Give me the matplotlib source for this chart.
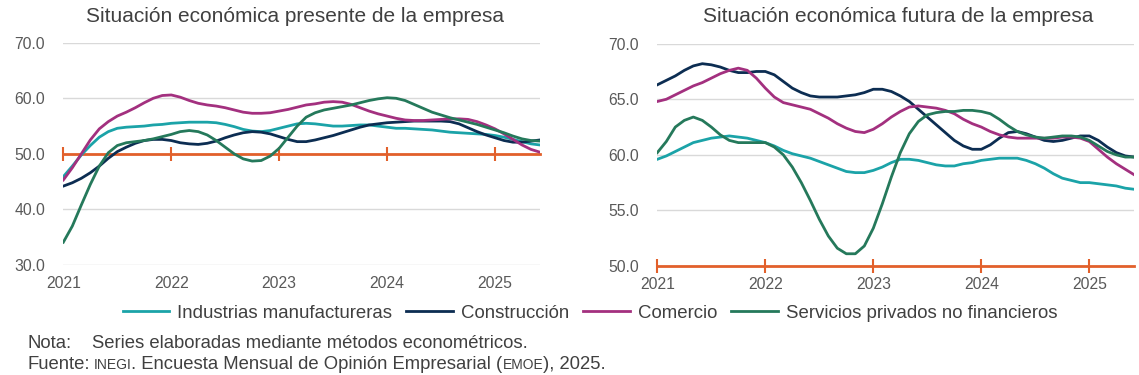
import matplotlib
matplotlib.use('Agg')

import matplotlib.pyplot as plt

plt.rcParams['font.family'] = ['Liberation Sans', 'DejaVu Sans']

# monthly series, Jan 2021 .. Jun 2025
years = ['2021', '2022', '2023', '2024', '2025']
series_names = ['Industrias manufactureras', 'Construcción', 'Comercio',
                'Servicios privados no financieros']

# Situación económica presente de la empresa
pres_ind = [45.9, 47.8, 49.8, 51.5, 53.0, 54.0, 54.6, 54.8, 54.9, 55.0, 55.2, 55.3,
            55.5, 55.6, 55.7, 55.7, 55.7, 55.6, 55.3, 54.9, 54.4, 54.1, 54.0, 54.2,
            54.6, 55.0, 55.4, 55.5, 55.4, 55.2, 55.0, 55.0, 55.1, 55.2, 55.2, 55.0,
            54.8, 54.6, 54.6, 54.5, 54.4, 54.3, 54.1, 53.9, 53.8, 53.7, 53.6, 53.5,
            53.3, 53.0, 52.6, 52.2, 51.8, 51.6]
pres_con = [44.2, 44.8, 45.6, 46.6, 47.8, 49.2, 50.4, 51.2, 51.9, 52.4, 52.6, 52.6,
            52.4, 52.0, 51.8, 51.7, 51.9, 52.3, 52.9, 53.4, 53.8, 54.0, 53.9, 53.6,
            53.1, 52.6, 52.2, 52.2, 52.5, 52.9, 53.3, 53.8, 54.3, 54.8, 55.2, 55.4,
            55.6, 55.7, 55.8, 55.9, 55.9, 55.9, 55.9, 55.8, 55.4, 54.7, 54.0, 53.4,
            52.9, 52.4, 52.1, 52.1, 52.3, 52.5]
pres_com = [45.3, 47.5, 50.0, 52.5, 54.5, 55.8, 56.8, 57.5, 58.3, 59.2, 60.0, 60.5,
            60.6, 60.2, 59.6, 59.1, 58.8, 58.6, 58.3, 57.9, 57.5, 57.3, 57.3, 57.4,
            57.7, 58.0, 58.4, 58.8, 59.0, 59.3, 59.4, 59.3, 58.9, 58.3, 57.7, 57.2,
            56.8, 56.4, 56.1, 56.0, 56.0, 56.1, 56.2, 56.3, 56.3, 56.2, 55.8, 55.2,
            54.5, 53.6, 52.6, 51.6, 50.8, 50.3]
pres_ser = [34.1, 37.0, 40.8, 44.5, 47.8, 50.2, 51.5, 52.0, 52.2, 52.4, 52.7, 53.1,
            53.5, 54.0, 54.2, 54.0, 53.4, 52.4, 51.2, 50.0, 49.1, 48.7, 48.8, 49.6,
            51.0, 53.0, 55.0, 56.6, 57.4, 57.9, 58.2, 58.5, 58.8, 59.2, 59.6, 59.9,
            60.1, 60.0, 59.6, 58.9, 58.2, 57.5, 57.0, 56.5, 56.1, 55.7, 55.3, 54.8,
            54.3, 53.8, 53.2, 52.7, 52.4, 52.3]

# Situación económica futura de la empresa
fut_ind = [59.6, 59.9, 60.3, 60.7, 61.1, 61.3, 61.5, 61.6, 61.7, 61.6, 61.5, 61.3,
           61.1, 60.8, 60.4, 60.1, 59.9, 59.7, 59.4, 59.1, 58.8, 58.5, 58.4, 58.4,
           58.6, 58.9, 59.3, 59.6, 59.6, 59.5, 59.3, 59.1, 59.0, 59.0, 59.2, 59.3,
           59.5, 59.6, 59.7, 59.7, 59.7, 59.5, 59.2, 58.8, 58.3, 57.9, 57.7, 57.5,
           57.5, 57.4, 57.3, 57.2, 57.0, 56.9]
fut_con = [66.3, 66.7, 67.1, 67.6, 68.0, 68.2, 68.1, 67.9, 67.6, 67.4, 67.4, 67.5,
           67.5, 67.2, 66.6, 66.0, 65.6, 65.3, 65.2, 65.2, 65.2, 65.3, 65.4, 65.6,
           65.9, 65.9, 65.7, 65.3, 64.8, 64.1, 63.4, 62.7, 62.0, 61.3, 60.8, 60.5,
           60.5, 60.9, 61.5, 62.0, 62.1, 61.9, 61.6, 61.3, 61.2, 61.3, 61.5, 61.7,
           61.7, 61.3, 60.7, 60.2, 59.9, 59.8]
fut_com = [64.8, 65.0, 65.4, 65.8, 66.2, 66.5, 66.9, 67.3, 67.6, 67.8, 67.6, 66.9,
           66.0, 65.2, 64.7, 64.5, 64.3, 64.1, 63.7, 63.3, 62.8, 62.4, 62.1, 62.0,
           62.3, 62.8, 63.4, 63.9, 64.3, 64.4, 64.3, 64.2, 64.0, 63.7, 63.2, 62.8,
           62.5, 62.1, 61.8, 61.6, 61.5, 61.5, 61.5, 61.5, 61.5, 61.6, 61.6, 61.5,
           61.2, 60.5, 59.8, 59.2, 58.7, 58.2]
fut_ser = [60.2, 61.2, 62.5, 63.1, 63.4, 63.1, 62.5, 61.8, 61.3, 61.1, 61.1, 61.1,
           61.1, 60.7, 60.0, 58.9, 57.5, 55.9, 54.2, 52.7, 51.6, 51.1, 51.1, 51.8,
           53.4, 55.6, 58.0, 60.2, 61.9, 63.0, 63.6, 63.8, 63.9, 63.9, 64.0, 64.0,
           63.9, 63.7, 63.2, 62.6, 62.1, 61.8, 61.6, 61.5, 61.6, 61.7, 61.7, 61.6,
           61.3, 60.8, 60.3, 60.0, 59.8, 59.8]

colors = ['#1BA3A8', '#0C2D52', '#A3307F', '#25795B']
ref_color = '#E2602B'
text_color = '#595959'
dark_text = '#404040'

months = list(range(len(pres_ind)))
year_pos = [12 * i for i in range(len(years))]

fig = plt.figure(figsize=(11.39, 3.75), dpi=100)
ax1 = fig.add_axes([0.0556, 0.2933, 0.4185, 0.5928])
ax2 = fig.add_axes([0.5771, 0.2907, 0.4188, 0.5928])

panels = [
    (ax1, [pres_ind, pres_con, pres_com, pres_ser], (30, 70), [30, 40, 50, 60, 70]),
    (ax2, [fut_ind, fut_con, fut_com, fut_ser], (50, 70), [50, 55, 60, 65, 70]),
]

for ax, data, ylim, yticks in panels:
    for vals, c, name in zip(data, colors, series_names):
        ax.plot(months, vals, color=c, lw=2, label=name, zorder=3)
    ax.set_xlim(0, len(months) - 1)
    ax.set_ylim(*ylim)
    ax.set_yticks(yticks)
    ax.set_yticklabels([f'{v:.1f}' for v in yticks])
    ax.set_xticks(year_pos)
    ax.set_xticklabels(years)
    for s in ax.spines.values():
        s.set_visible(False)
    ax.tick_params(length=0, labelsize=11.3, labelcolor=text_color)
    ax.tick_params(axis='x', pad=8)
    ax.tick_params(axis='y', pad=13)
    ax.grid(axis='y', color='#D9D9D9', lw=1)
    ax.set_axisbelow(True)
    # orange reference line at 50 with year ticks
    ax.axhline(50, color=ref_color, lw=2, zorder=2, clip_on=False)
    loc = (50 - ylim[0]) / (ylim[1] - ylim[0])
    sec = ax.secondary_xaxis(loc)
    sec.set_xticks(year_pos)
    sec.set_xticklabels([])
    for s in sec.spines.values():
        s.set_visible(False)
    sec.tick_params(direction='inout', length=10, width=1.5, color=ref_color,
                    labeltop=False, labelbottom=False)

fig.text(295 / 1139, 1 - 17 / 375, 'Situación económica presente de la empresa',
         ha='center', va='center', fontsize=15, color=dark_text)
fig.text(898 / 1139, 1 - 17 / 375, 'Situación económica futura de la empresa',
         ha='center', va='center', fontsize=15, color=dark_text)

handles, labels = ax1.get_legend_handles_labels()
fig.legend(handles, labels, loc='center', bbox_to_anchor=(0.518, 1 - 313 / 375),
           ncol=4, frameon=False, fontsize=13.4, handlelength=2.5,
           columnspacing=0.75, handletextpad=0.43, labelcolor=dark_text)

note_size = 13.3
fig.text(27 / 1139, 1 - 343 / 375, 'Nota:', va='center', fontsize=note_size,
         color=dark_text)
fig.text(92 / 1139, 1 - 343 / 375, 'Series elaboradas mediante métodos econométricos.',
         va='center', fontsize=note_size, color=dark_text)

# source line: pieces share one baseline, acronyms in small caps
renderer = fig.canvas.get_renderer()
base_y = 1 - 369 / 375
parts = [('Fuente:', note_size, 0), ('INEGI', 10, 4),
         ('. Encuesta Mensual de Opinión Empresarial (', note_size, 0),
         ('EMOE', 10, 0), ('), 2025.', note_size, 0)]
x = 27
for txt, fs, gap in parts:
    t = fig.text((x + gap) / 1139, base_y, txt, va='baseline', ha='left',
                 fontsize=fs, color=dark_text)
    x = t.get_window_extent(renderer).x1

plt.savefig('out.png', dpi=100)
